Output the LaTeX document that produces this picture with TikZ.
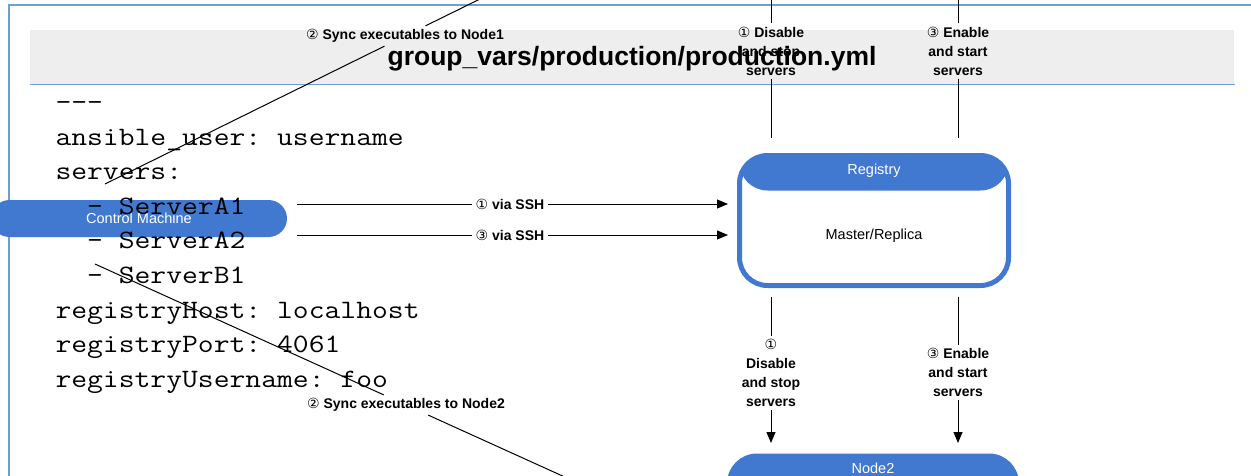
\documentclass[tikz,border=0pt]{standalone}
\usepackage{fontspec}
\setmainfont{Liberation Sans}
\setmonofont[FakeStretch=1.16]{Latin Modern Mono}
\newfontfamily\circfont{DejaVu Sans}
\usetikzlibrary{arrows.meta}
\definecolor{boxblue}{RGB}{66,121,208}
\definecolor{framecol}{RGB}{110,158,212}
\definecolor{headgray}{RGB}{238,238,238}
\newcommand{\cnum}[1]{{\circfont\mdseries #1}}

\begin{document}
\begin{tikzpicture}[x=1pt, y=-1pt, line width=1pt, >={Triangle[length=11pt,width=9pt]},
    lbl/.style={font=\bfseries\fontsize{14}{19}\selectfont, align=center, inner sep=3pt},
    whitetxt/.style={text=white, font=\fontsize{14.5}{17}\selectfont}]
    \useasboundingbox (0,0) rectangle (1251,475);
    \clip (0,0) rectangle (1251,475);

    % frame and file header
    \draw[framecol, line width=2pt] (8.5,480) |- (1256,5);
    \node[fill=headgray, minimum width=1204pt, minimum height=54pt, inner sep=0pt] (header) at (632,57) {};
    \draw[framecol, line width=1.5pt] (header.south west) -- (header.south east);
    \node[font=\bfseries\fontsize{26.5}{30}\selectfont] (title) at (632,59) {group\_vars/production/production.yml};

    \node[fill=boxblue, rounded corners=18.5pt, minimum width=296pt, minimum height=37pt, whitetxt] (cm) at (139,218.5) {Control Machine};

    % yaml file
    \node[anchor=north west, inner sep=0pt, font=\ttfamily\fontsize{26.5}{34.6}\selectfont] (yaml) at (55,85.8) {
        \begin{tabular}{@{}l@{}}
        -\kern0pt-\kern0pt- \\
        ansible\_user: username \\
        servers: \\
        \phantom{xx}- ServerA1 \\
        \phantom{xx}- ServerA2 \\
        \phantom{xx}- ServerB1 \\
        registryHost: localhost \\
        registryPort: 4061 \\
        registryUsername: foo
        \end{tabular}
    };

    % registry and node2
    \node[draw=boxblue, line width=5pt, rounded corners=28pt, minimum width=269pt, minimum height=130pt, fill=white,
          path picture={\fill[boxblue] (path picture bounding box.north west) rectangle ([yshift=-35pt]path picture bounding box.north east);}]
          (reg) at (874,220.5) {};
    \node[whitetxt] (regname) at (874,171) {Registry};
    \node[font=\fontsize{14.5}{17}\selectfont] (regrole) at (874,236) {Master/Replica};

    \node[fill=boxblue, rounded corners=30pt, minimum width=292pt, minimum height=135pt, anchor=north] (node2) at (873,453) {};
    \node[whitetxt] (node2name) at (873,468) {Node2};

    % ssh arrows
    \coordinate (cm1) at (297,204);
    \coordinate (cm3) at (297,235);
    \coordinate (reg1) at (728,204);
    \coordinate (reg3) at (728,235);
    \node[lbl] (ssh1) at (510,204) {\cnum{①} via SSH};
    \node[lbl] (ssh3) at (510,235) {\cnum{③} via SSH};
    \draw (cm1) -- (ssh1);
    \draw[->] (ssh1) -- (reg1);
    \draw (cm3) -- (ssh3);
    \draw[->] (ssh3) -- (reg3);

    % towards node1
    \coordinate (n1a) at (771,-2);
    \coordinate (n1b) at (958,-2);
    \coordinate (regtopa) at (771,138);
    \coordinate (regtopb) at (958,138);
    \node[lbl] (stop1) at (771,51) {\cnum{①} Disable\\and stop\\servers};
    \node[lbl] (start1) at (958,51) {\cnum{③} Enable\\and start\\servers};
    \draw (n1a) -- (stop1);
    \draw (stop1) -- (regtopa);
    \draw (n1b) -- (start1);
    \draw (start1) -- (regtopb);

    % towards node2
    \coordinate (regbota) at (771,297);
    \coordinate (regbotb) at (958,297);
    \coordinate (n2a) at (771,443);
    \coordinate (n2b) at (958,443);
    \node[lbl] (stop2) at (771,373) {\cnum{①}\\Disable\\and stop\\servers};
    \node[lbl] (start2) at (958,372.5) {\cnum{③} Enable\\and start\\servers};
    \draw (regbota) -- (stop2);
    \draw[->] (stop2) -- (n2a);
    \draw (regbotb) -- (start2);
    \draw[->] (start2) -- (n2b);

    % sync lines
    \coordinate (sync1a) at (105,184);
    \coordinate (sync1b) at (705,-112);
    \node[lbl] (sync1) at (405,36) {\cnum{②} Sync executables to Node1};
    \draw (sync1a) -- (sync1);
    \draw (sync1) -- (sync1b);

    \coordinate (sync2a) at (95,264);
    \coordinate (sync2b) at (717,546);
    \node[lbl] (sync2) at (406,405) {\cnum{②} Sync executables to Node2};
    \draw (sync2a) -- (sync2);
    \draw (sync2) -- (sync2b);
\end{tikzpicture}
\end{document}
